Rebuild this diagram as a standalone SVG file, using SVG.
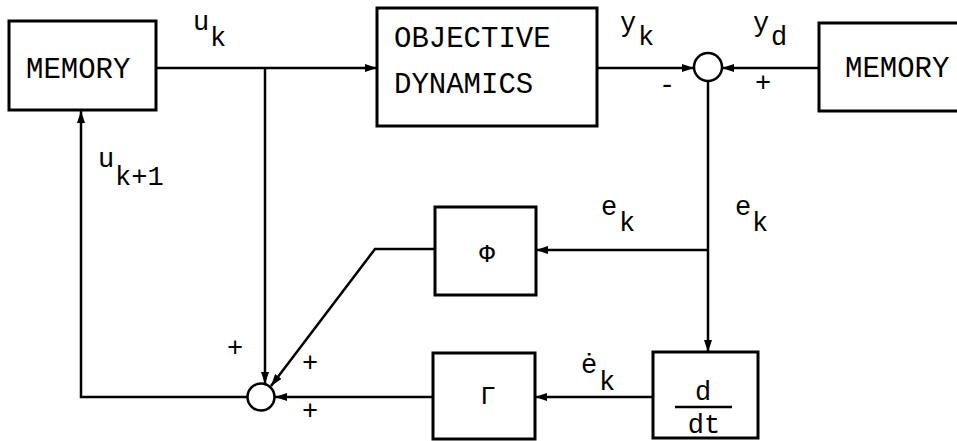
<svg xmlns="http://www.w3.org/2000/svg" width="957" height="441" viewBox="0 0 957 441">
<defs>
<marker id="ah" markerWidth="12" markerHeight="8" refX="12" refY="4" orient="auto" markerUnits="userSpaceOnUse">
<path d="M0,0 L12,4 L0,8 Z" fill="#000"/>
</marker>
</defs>
<style>
.box{fill:#fff;stroke:#000;stroke-width:3}
.ln{fill:none;stroke:#000;stroke-width:2.5}
.sum{fill:#fff;stroke:#000;stroke-width:2.5}
.t{font-family:"Liberation Mono","DejaVu Sans Mono",monospace;font-size:29px;fill:#000}
.s{font-family:"Liberation Mono","DejaVu Sans Mono",monospace;font-size:27px;fill:#000}
.sg{font-family:"Liberation Mono","DejaVu Sans Mono",monospace;font-size:26px;fill:#000}
</style>
<rect width="957" height="441" fill="#fff"/>
<g id="connectors">
<path class="ln" d="M156,68 H377" marker-end="url(#ah)"/>
<path class="ln" d="M265,68 V384" marker-end="url(#ah)"/>
<path class="ln" d="M597,68 H694" marker-end="url(#ah)"/>
<path class="ln" d="M819,68 H722" marker-end="url(#ah)"/>
<path class="ln" d="M708,81 V352" marker-end="url(#ah)"/>
<path class="ln" d="M708,250 H536" marker-end="url(#ah)"/>
<path class="ln" d="M435,249 H375 L271,386" marker-end="url(#ah)"/>
<path class="ln" d="M653,397 H535" marker-end="url(#ah)"/>
<path class="ln" d="M433,397 H275" marker-end="url(#ah)"/>
<path class="ln" d="M247,397 H81 V111" marker-end="url(#ah)"/>
</g>
<g id="memory-left">
<rect class="box" x="9" y="21" width="147" height="89"/>
<text class="t" x="26" y="78">MEMORY</text>
</g>
<g id="objective-dynamics">
<rect class="box" x="377" y="8" width="220" height="118"/>
<text class="t" x="394" y="47">OBJECTIVE</text>
<text class="t" x="394" y="93">DYNAMICS</text>
</g>
<g id="sum-top">
<circle class="sum" cx="708" cy="67" r="14"/>
</g>
<g id="memory-right">
<rect class="box" x="819" y="23" width="150" height="88"/>
<text class="t" x="845" y="77">MEMORY</text>
</g>
<g id="phi">
<rect class="box" x="435" y="207" width="101" height="88"/>
<text class="sg" x="487" y="262" text-anchor="middle">Φ</text>
</g>
<g id="gamma">
<rect class="box" x="433" y="353" width="102" height="86"/>
<text class="sg" x="488" y="404" text-anchor="middle">Γ</text>
</g>
<g id="ddt">
<rect class="box" x="653" y="352" width="105" height="86"/>
<text class="s" x="703" y="400" text-anchor="middle">d</text>
<line x1="675" y1="407" x2="732" y2="407" stroke="#000" stroke-width="2.5"/>
<text class="s" x="704" y="433" text-anchor="middle">dt</text>
</g>
<g id="sum-bottom">
<circle class="sum" cx="261" cy="397" r="13.5"/>
</g>
<g id="labels">
<text class="s" x="193" y="30">u</text><text class="s" x="210" y="46">k</text>
<text class="s" x="620" y="31">y</text><text class="s" x="638" y="45">k</text>
<text class="s" x="753" y="31">y</text><text class="s" x="771" y="45">d</text>
<text class="s" x="98" y="167">u</text><text class="s" x="115" y="185">k+1</text>
<text class="s" x="601" y="215">e</text><text class="s" x="619" y="231">k</text>
<text class="s" x="735" y="215">e</text><text class="s" x="752" y="231">k</text>
<text class="s" x="581" y="373">ė</text><text class="s" x="599" y="390">k</text>
<text class="s" x="667" y="93" text-anchor="middle">-</text>
<text class="s" x="763" y="91" text-anchor="middle">+</text>
<text class="s" x="235" y="356" text-anchor="middle">+</text>
<text class="s" x="310" y="371" text-anchor="middle">+</text>
<text class="s" x="310" y="419" text-anchor="middle">+</text>
</g>
</svg>
